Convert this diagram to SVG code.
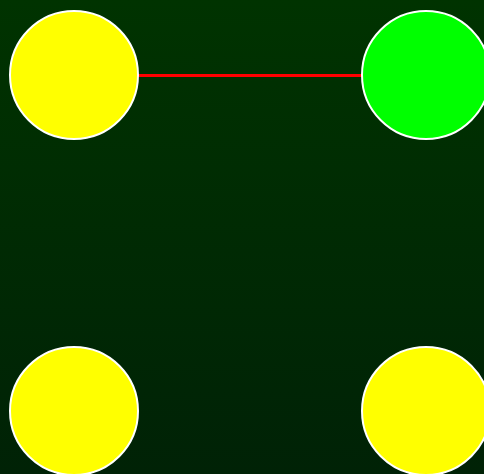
<svg xmlns="http://www.w3.org/2000/svg" width="484" height="474" viewBox="0 0 484 474">
<defs>
<linearGradient id="bg" x1="0" y1="0" x2="0" y2="1">
<stop offset="0" stop-color="#003300"/>
<stop offset="1" stop-color="#002206"/>
</linearGradient>
<style>
.node{stroke:#ffffff;stroke-width:2}
.edge{stroke:#ff0000;stroke-width:3;fill:none}
</style>
</defs>
<rect width="484" height="474" fill="url(#bg)"/>
<g id="connectors">
<line class="edge" x1="138" y1="75.5" x2="362" y2="75.5"/>
</g>
<g id="n1"><circle class="node" cx="74" cy="75" r="64" fill="#ffff00"/></g>
<g id="n2"><circle class="node" cx="426" cy="75" r="64" fill="#00ff00"/></g>
<g id="n3"><circle class="node" cx="74" cy="411" r="64" fill="#ffff00"/></g>
<g id="n4"><circle class="node" cx="426" cy="411" r="64" fill="#ffff00"/></g>
</svg>
